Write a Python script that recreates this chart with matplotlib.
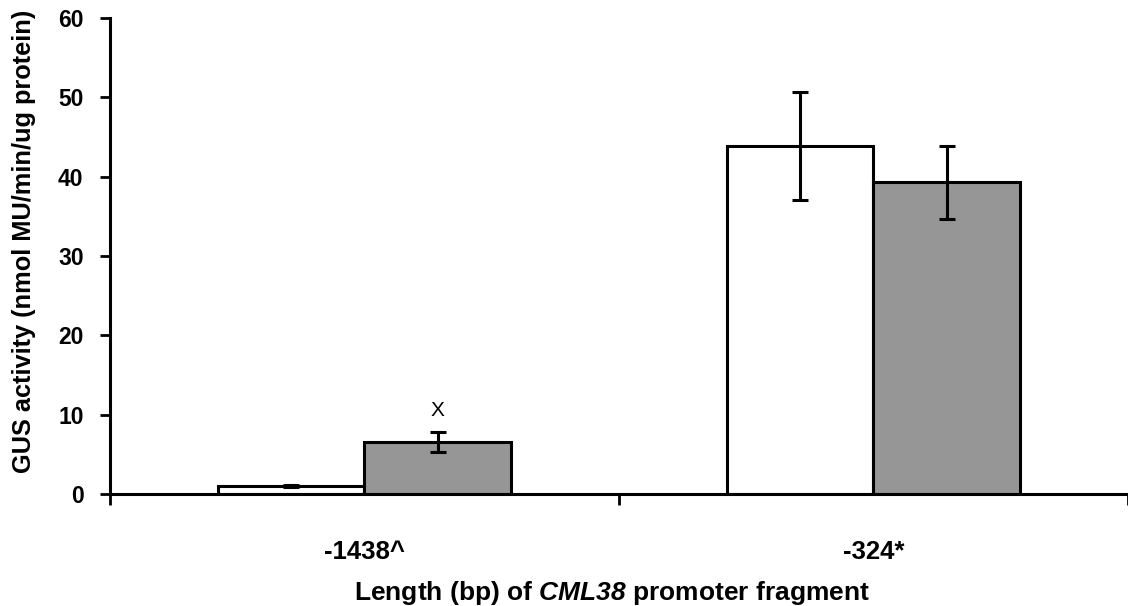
import matplotlib
matplotlib.use("Agg")
import matplotlib.pyplot as plt
import numpy as np

plt.rcParams['font.family'] = ['Liberation Sans', 'DejaVu Sans']
plt.rcParams['mathtext.fontset'] = 'custom'
plt.rcParams['mathtext.bfit'] = 'Liberation Sans:italic:bold'
plt.rcParams['mathtext.it'] = 'Liberation Sans:italic:bold'

categories = ['-1438^', '-324*']
white_vals = [1.0, 43.9]
white_err = [0.15, 6.85]
gray_vals = [6.5, 39.3]
gray_err = [1.25, 4.6]
annot_text = 'X'
annot_y = 10.5

fig = plt.figure(figsize=(11.28, 6.06), dpi=100)
ax = fig.add_axes([0.0975, 0.185, 0.9025, 0.785])

x = np.arange(len(categories)) + 0.5
w = 0.288
lw = 2.2
ax.bar(x - w/2, white_vals, w, color='white', edgecolor='black', linewidth=lw, zorder=2)
ax.bar(x + w/2, gray_vals, w, color='#969696', edgecolor='black', linewidth=lw, zorder=2)
ax.errorbar(x - w/2, white_vals, yerr=white_err, fmt='none', ecolor='black',
            elinewidth=2.2, capsize=5.5, capthick=2.2, zorder=3)
ax.errorbar(x + w/2, gray_vals, yerr=gray_err, fmt='none', ecolor='black',
            elinewidth=2.2, capsize=5.5, capthick=2.2, zorder=3)
ax.text(x[0] + w/2, annot_y, annot_text, ha='center', va='center', fontsize=15)

ax.set_xlim(0, 2)
ax.set_ylim(0, 60)
ax.set_yticks(np.arange(0, 61, 10))
ax.set_xticks([0, 1, 2])
ax.set_xticklabels([])
ax.set_xticks(x, minor=True)
ax.set_xticklabels(categories, minor=True, fontsize=18.5, fontweight='bold')
ax.tick_params(axis='x', which='minor', length=0, pad=33)
ax.tick_params(axis='x', which='major', length=8, width=2, direction='out')
ax.tick_params(axis='y', length=7, width=2, direction='out', labelsize=16.5, pad=12)
for lab in ax.get_yticklabels():
    lab.set_fontweight('bold')

for s in ['top', 'right']:
    ax.spines[s].set_visible(False)
for s in ['left', 'bottom']:
    ax.spines[s].set_linewidth(2.2)

ax.set_ylabel('GUS activity (nmol MU/min/ug protein)', fontsize=18.3, fontweight='bold',
              ha='center', va='center')
ax.yaxis.set_label_coords(-0.0845, 0.531)
ax.set_xlabel(r'Length (bp) of $\mathbfit{CML38}$ promoter fragment', fontsize=19,
              fontweight='bold', ha='center', va='center')
ax.xaxis.set_label_coords(0.493, -0.208)

fig.savefig('out.png', dpi=100)
